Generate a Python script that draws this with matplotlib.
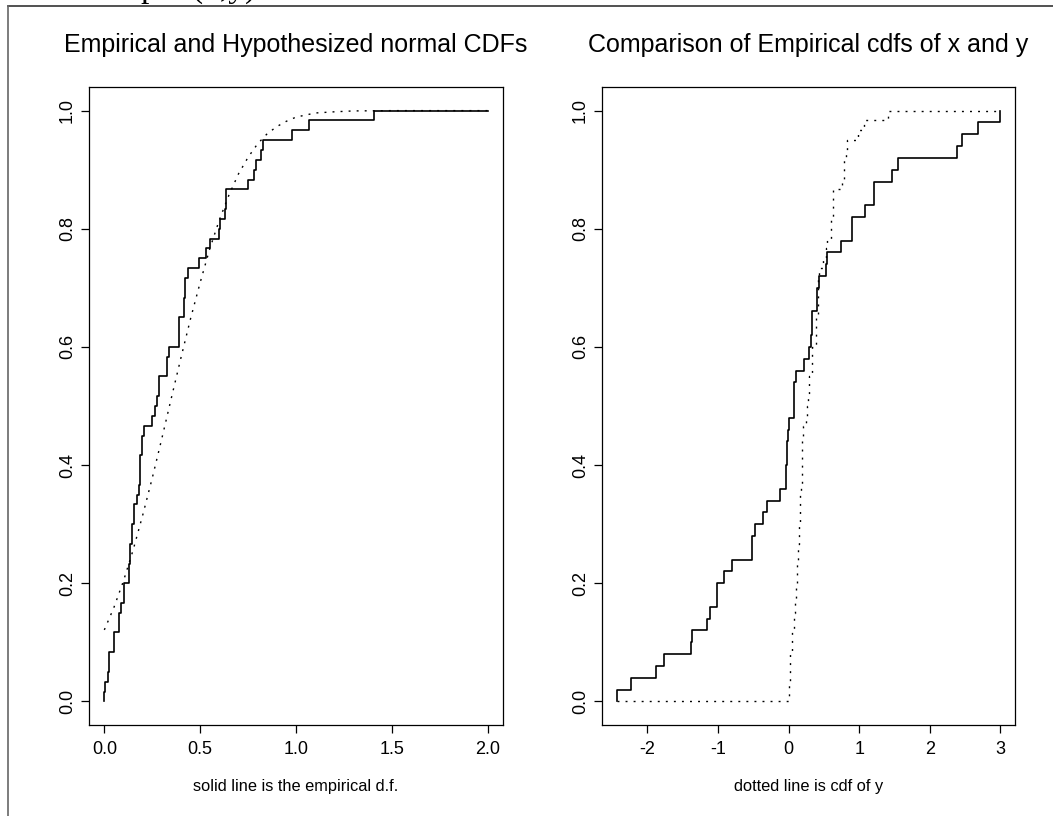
import matplotlib

matplotlib.use("Agg")
import matplotlib.pyplot as plt
from matplotlib.lines import Line2D

plt.rcParams["font.family"] = ["Liberation Sans", "DejaVu Sans"]

y_sample = [
    0.000, 0.001, 0.021, 0.022, 0.023, 0.052, 0.052, 0.078, 0.078, 0.089,
    0.101, 0.101, 0.127, 0.127, 0.134, 0.134, 0.143, 0.143, 0.157, 0.157,
    0.169, 0.180, 0.188, 0.188, 0.188, 0.197, 0.197, 0.206, 0.248, 0.265,
    0.274, 0.284, 0.284, 0.326, 0.326, 0.336, 0.389, 0.389, 0.389, 0.415,
    0.415, 0.423, 0.423, 0.436, 0.493, 0.531, 0.549, 0.598, 0.606, 0.631,
    0.636, 0.636, 0.751, 0.781, 0.791, 0.817, 0.828, 0.979, 1.068, 1.408,
]

x_sample = [
    -2.424, -2.226, -1.883, -1.760, -1.379, -1.360, -1.153, -1.115, -1.012, -1.012,
    -0.918, -0.805, -0.522, -0.522, -0.470, -0.367, -0.306, -0.127, -0.037, -0.030,
    -0.023, -0.015, -0.008, 0.000, 0.071, 0.071, 0.080, 0.104, 0.226, 0.297,
    0.321, 0.339, 0.339, 0.401, 0.401, 0.438, 0.532, 0.551, 0.744, 0.895,
    0.895, 1.083, 1.206, 1.206, 1.460, 1.554, 2.387, 2.458, 2.689, 2.990,
]

# hypothesized normal cdf, read at a few points along the dotted curve
norm_x = [0.0, 0.05, 0.1, 0.15, 0.2, 0.25, 0.3, 0.35, 0.4, 0.45, 0.5, 0.55,
          0.6, 0.65, 0.7, 0.75, 0.8, 0.85, 0.9, 0.95, 1.0, 1.1, 1.2, 1.3, 1.5, 2.0]
norm_p = [0.121, 0.159, 0.204, 0.256, 0.315, 0.378, 0.445, 0.514, 0.582, 0.648,
          0.709, 0.766, 0.815, 0.857, 0.893, 0.921, 0.944, 0.961, 0.973, 0.982,
          0.989, 0.996, 0.998, 0.9995, 1.0, 1.0]

left_xticks = [0.0, 0.5, 1.0, 1.5, 2.0]
right_xticks = [-2, -1, 0, 1, 2, 3]
yticks = [0.0, 0.2, 0.4, 0.6, 0.8, 1.0]
left_xmax = 2.0

DOTS = (0, (1.4, 4.4))


def ecdf_steps(values, start, end=None):
    ordered = sorted(values)
    n = len(ordered)
    xs = [start] + ordered
    ys = [0.0] + [(i + 1) / n for i in range(n)]
    if end is not None:
        xs.append(end)
        ys.append(1.0)
    return xs, ys


def r_axes(ax, xlim, xticks, fmt):
    ax.set_xlim(*xlim)
    ax.set_ylim(-0.04, 1.04)
    ax.set_xticks(xticks)
    ax.set_xticklabels([fmt(v) for v in xticks])
    ax.set_yticks(yticks)
    ax.set_yticklabels([f"{v:.1f}" for v in yticks], rotation=90, va="center")
    ax.tick_params(direction="out", length=6, width=0.9, labelsize=13, colors="black")
    ax.tick_params(axis="x", pad=5.5)
    ax.tick_params(axis="y", pad=3.5)
    for spine in ax.spines.values():
        spine.set_linewidth(0.9)
        spine.set_color("black")


fig = plt.figure(figsize=(10.53, 8.16), dpi=100)
W, H = 1053, 816

ax1 = fig.add_axes([89 / W, 1 - 725 / H, 414 / W, 638 / H])
ax2 = fig.add_axes([602 / W, 1 - 725 / H, 413 / W, 638 / H])

# left: empirical vs hypothesized normal
xs, ys = ecdf_steps(y_sample, min(y_sample), left_xmax)
ax1.step(xs, ys, where="post", color="black", linewidth=1.2)
ax1.plot(norm_x, norm_p, color="black", linewidth=1.0, linestyle=DOTS)
span = left_xmax - min(y_sample)
r_axes(ax1, (min(y_sample) - 0.04 * span, left_xmax + 0.04 * span), left_xticks,
       lambda v: f"{v:.1f}")

# right: empirical cdfs of x and y
lo, hi = min(x_sample), max(x_sample)
xs, ys = ecdf_steps(x_sample, lo)
ax2.step(xs, ys, where="post", color="black", linewidth=1.2)
xs, ys = ecdf_steps(y_sample, lo, hi)
ax2.step(xs, ys, where="post", color="black", linewidth=1.0, linestyle=DOTS)
span = hi - lo
r_axes(ax2, (lo - 0.04 * span, hi + 0.04 * span), right_xticks, lambda v: f"{v:d}")

for ax, title, xlabel in [
    (ax1, "Empirical and Hypothesized normal CDFs", "solid line is the empirical d.f."),
    (ax2, "Comparison of Empirical cdfs of x and y", "dotted line is cdf of y"),
]:
    box = ax.get_position()
    cx = (box.x0 + box.x1) / 2
    fig.text(cx, 1 - 45 / H, title, ha="center", va="center", fontsize=18)
    fig.text(cx, 1 - 786 / H, xlabel, ha="center", va="center", fontsize=11.8)

# page frame and the cut-off line of text above it
fig.add_artist(Line2D([8 / W, 1.0], [1 - 6 / H, 1 - 6 / H], transform=fig.transFigure,
                      color="#333333", linewidth=1.2))
fig.add_artist(Line2D([8 / W, 8 / W], [0.0, 1 - 6 / H], transform=fig.transFigure,
                      color="#666666", linewidth=1.2))
fig.text(140 / W, 1 + 3 / H, "plot(x,y)", ha="left", va="baseline", fontsize=24,
         family="Liberation Serif")

fig.savefig("out.png", dpi=100)
